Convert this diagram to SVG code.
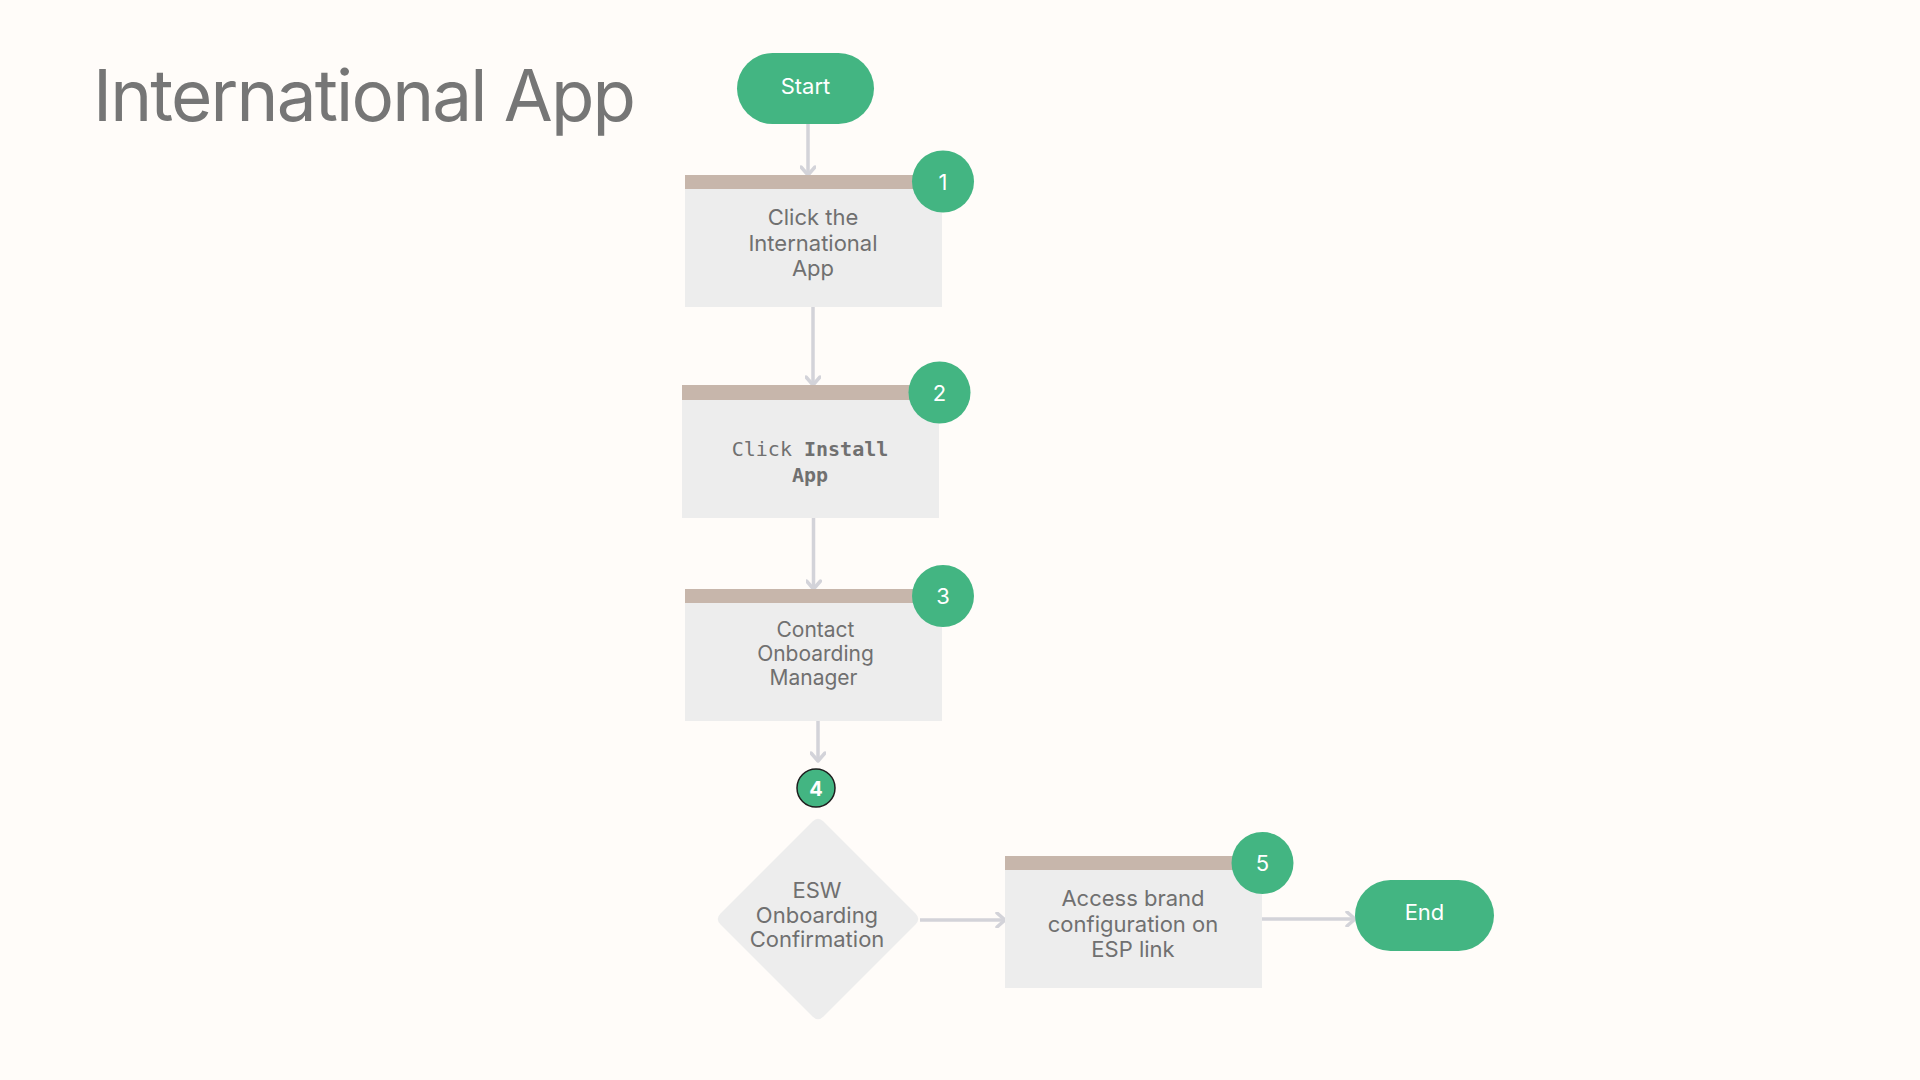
<svg xmlns="http://www.w3.org/2000/svg" width="1920" height="1080" viewBox="0 0 1920 1080">
  <style>
    .t { font-family: Inter, "Liberation Sans", sans-serif; fill: #707070; text-anchor: middle; }
    .w { font-family: Inter, "Liberation Sans", sans-serif; fill: #ffffff; text-anchor: middle; }
    .mono { font-family: "DejaVu Sans Mono", "Liberation Mono", monospace; fill: #707070; text-anchor: middle; font-size: 20px; }
    .body { fill: #ededed; }
    .band { fill: #c7b6ab; }
    .green { fill: #43b582; }
    .conn { stroke: #d3d3d9; stroke-width: 3.5; fill: none; }
  </style>
  <defs>
    <marker id="arr" viewBox="0 0 16 16" refX="14" refY="8" markerWidth="16" markerHeight="16" markerUnits="userSpaceOnUse" orient="auto">
      <path d="M6,1 L14,8 L6,15" fill="none" stroke="#d3d3d9" stroke-width="3.5" stroke-linecap="round" stroke-linejoin="round"/>
    </marker>
  </defs>
  <rect x="0" y="0" width="1920" height="1080" fill="#fffcf9"/>

  <text id="title" x="93" y="121" font-family="Inter, 'Liberation Sans', sans-serif" font-size="71" fill="#767676" textLength="543" lengthAdjust="spacing">International App</text>

  <g id="connectors">
    <path class="conn" d="M808,124 L808,175" marker-end="url(#arr)"/>
    <path class="conn" d="M813,307 L813,385" marker-end="url(#arr)"/>
    <path class="conn" d="M813.5,518 L813.5,589" marker-end="url(#arr)"/>
    <path class="conn" d="M818,721 L818,761" marker-end="url(#arr)"/>
    <path class="conn" d="M920,920 L1005,920" marker-end="url(#arr)"/>
    <path class="conn" d="M1262,919 L1355,919" marker-end="url(#arr)"/>
  </g>

  <g id="start">
    <rect class="green" x="737" y="53" width="137" height="71" rx="35.5"/>
    <text class="w" x="805.5" y="94" font-size="22">Start</text>
  </g>

  <g id="step1">
    <rect class="body" x="685" y="175" width="257" height="132"/>
    <rect class="band" x="685" y="175" width="257" height="14"/>
    <text class="t" font-size="22"><tspan x="813" y="225">Click the</tspan><tspan x="813" y="251">International</tspan><tspan x="813" y="276">App</tspan></text>
    <circle class="green" cx="943" cy="181.5" r="31"/>
    <text class="w" x="943" y="189.5" font-size="22">1</text>
  </g>

  <g id="step2">
    <rect class="body" x="682" y="385" width="257" height="133"/>
    <rect class="band" x="682" y="385" width="257" height="15"/>
    <text class="mono"><tspan x="810" y="456">Click <tspan font-weight="bold">Install</tspan></tspan><tspan x="810" y="482" font-weight="bold">App</tspan></text>
    <circle class="green" cx="939.5" cy="392.5" r="31"/>
    <text class="w" x="939.5" y="400.5" font-size="22">2</text>
  </g>

  <g id="step3">
    <rect class="body" x="685" y="589" width="257" height="132"/>
    <rect class="band" x="685" y="589" width="257" height="14"/>
    <text class="t" font-size="21"><tspan x="815.5" y="637">Contact</tspan><tspan x="815.5" y="661">Onboarding</tspan><tspan x="813.5" y="684.5">Manager</tspan></text>
    <circle class="green" cx="943" cy="596" r="31"/>
    <text class="w" x="943" y="604" font-size="22">3</text>
  </g>

  <g id="step4">
    <circle class="green" cx="816" cy="788" r="19" stroke="#1e1e1e" stroke-width="1.5"/>
    <text class="w" x="816" y="795.5" font-size="20" font-weight="bold">4</text>
  </g>

  <g id="decision">
    <path class="body" d="M812.5,821.5 Q818,816 823.5,821.5 L915.5,913.5 Q921,919 915.5,924.5 L823.5,1016.5 Q818,1022 812.5,1016.5 L720.5,924.5 Q715,919 720.5,913.5 Z"/>
    <text class="t" font-size="22"><tspan x="817" y="897.5">ESW</tspan><tspan x="817" y="922.5">Onboarding</tspan><tspan x="817" y="947">Confirmation</tspan></text>
  </g>

  <g id="step5">
    <rect class="body" x="1005" y="856" width="257" height="132"/>
    <rect class="band" x="1005" y="856" width="257" height="14"/>
    <text class="t" font-size="22"><tspan x="1133" y="906">Access brand</tspan><tspan x="1133" y="932">configuration on</tspan><tspan x="1133" y="957">ESP link</tspan></text>
    <circle class="green" cx="1262.5" cy="863" r="31"/>
    <text class="w" x="1262.5" y="871" font-size="22">5</text>
  </g>

  <g id="end">
    <rect class="green" x="1355" y="880" width="139" height="71" rx="35.5"/>
    <text class="w" x="1424.5" y="920" font-size="22">End</text>
  </g>
</svg>
